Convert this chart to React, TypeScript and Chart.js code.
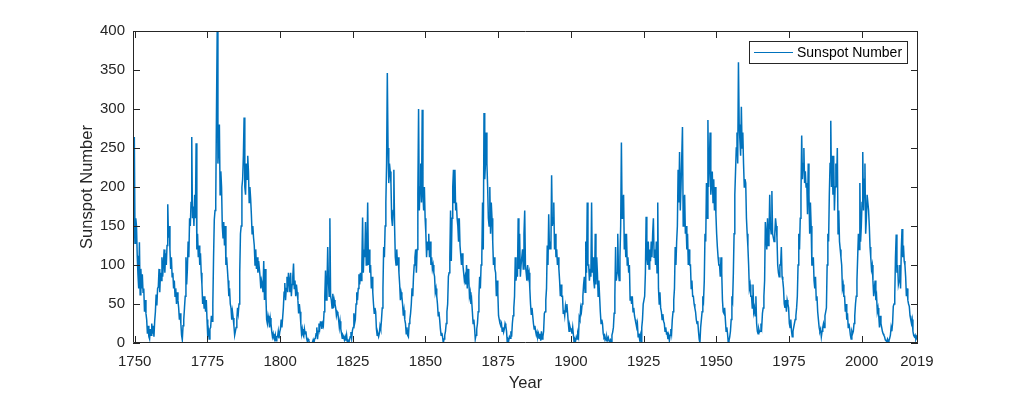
import React, { useEffect, useRef } from "react";
import { Chart, registerables } from "chart.js";

Chart.register(...registerables);

// Quarterly sunspot numbers, first value at 1749.375, one value every 0.25 year
const START_YEAR = 1749.375;
const STEP_YEARS = 0.25;

const ssn1749to1799: number[] = [
  100, 140, 264,
  128, 160, 150, 112,
  88, 70, 129, 62,
  95, 70, 88, 65,
  70, 40, 55, 38,
  30, 12, 22, 8,
  5, 18, 10, 25,
  12, 22, 8, 28,
  40, 62, 48, 70,
  72, 95, 65, 90,
  80, 110, 85, 100,
  120, 90, 115, 100,
  125, 178, 135, 150,
  120, 95, 110, 85,
  90, 70, 80, 60,
  70, 50, 65, 55,
  45, 30, 38, 25,
  10, 4, 22, 30,
  45, 60, 110, 75,
  95, 130, 110, 160,
  150, 180, 264, 160,
  175, 150, 190, 160,
  256, 120, 140, 110,
  125, 100, 115, 90,
  75, 50, 60, 45,
  60, 40, 55, 30,
  8, 15, 5, 18,
  20, 35, 28, 50,
  110, 158, 170, 180,
  296, 400, 230, 250,
  280, 190, 220, 200,
  150, 135, 155, 125,
  150, 100, 110, 95,
  80, 60, 70, 50,
  45, 30, 40, 32,
  22, 10, 15, 20,
  30, 45, 38, 50,
  90, 140, 150, 200,
  210, 240, 289, 200,
  190, 230, 210, 240,
  220, 180, 200, 185,
  165, 140, 150, 135,
  125, 100, 120, 95,
  110, 90, 105, 95,
  85, 70, 80, 75,
  65, 105, 55, 95,
  60, 30, 25, 35,
  30, 20, 32, 25,
  15, 8, 12, 6,
  4, 10, 3, 8,
  8, 15, 6, 14,
];

const ssn1800to1849: number[] = [
  18, 30, 20, 32,
  45, 65, 77, 55,
  70, 85, 65, 90,
  80, 65, 90, 60,
  75, 85, 102, 70,
  80, 60, 75, 65,
  55, 38, 50, 40,
  25, 12, 18, 10,
  8, 18, 12, 15,
  6, 2, 5, 3,
  0, 0, 0, 0,
  1, 4, 0, 5,
  6, 12, 20, 5,
  15, 25, 18, 27,
  27, 18, 25, 22,
  40, 60, 93, 55,
  70, 123, 80, 60,
  160, 60, 55, 45,
  63, 45, 55, 50,
  45, 35, 40, 38,
  30, 20, 28, 18,
  12, 6, 10, 8,
  4, 8, 3, 10,
  1, 3, 0, 4,
  8, 14, 6, 16,
  20, 38, 25, 30,
  50, 65, 55, 70,
  88, 75, 90, 80,
  100, 161, 90, 120,
  110, 155, 100, 120,
  180, 100, 120, 90,
  100, 70, 85, 65,
  50, 38, 45, 40,
  18, 10, 12, 8,
  12, 22, 18, 30,
  45, 70, 123, 110,
  150, 180, 230, 346,
  250, 205, 230, 220,
  205, 160, 150, 170,
  222, 150, 110, 100,
  120, 100, 110, 90,
  75, 55, 65, 60,
  50, 35, 42, 30,
  25, 12, 20, 10,
  8, 25, 30, 38,
  50, 70, 60, 85,
  100, 110, 120, 90,
  120, 190, 300, 170,
  200, 230, 180, 299,
  190, 170, 200, 160,
];

const ssn1850to1899: number[] = [
  141, 110, 130, 120,
  140, 110, 130, 100,
  110, 95, 100, 90,
  85, 65, 70, 60,
  50, 35, 40, 30,
  18, 10, 13, 8,
  0, 5, 10, 15,
  25, 40, 50, 85,
  90, 110, 170, 105,
  160, 200, 222, 180,
  222, 170, 180, 160,
  150, 130, 160, 125,
  125, 100, 115, 100,
  90, 80, 85, 75,
  100, 70, 95, 85,
  60, 65, 50, 55,
  40, 25, 30, 20,
  5, 10, 18, 25,
  40, 60, 85, 70,
  100, 110, 180, 120,
  295, 210, 230, 270,
  230, 200, 160, 150,
  200, 140, 180, 160,
  130, 100, 110, 95,
  90, 60, 80, 65,
  35, 30, 25, 22,
  25, 15, 20, 14,
  18, 25, 22, 15,
  0, 5, 3, 8,
  6, 15, 8, 25,
  35, 45, 60, 110,
  80, 90, 85, 160,
  95, 140, 85, 100,
  100, 120, 95, 140,
  170, 100, 90, 80,
  100, 85, 90, 70,
  50, 37, 45, 35,
  25, 18, 22, 15,
  10, 14, 8, 12,
  6, 12, 3, 15,
  5, 8, 15, 38,
  40, 55, 70, 125,
  100, 165, 120, 130,
  120, 215, 150, 160,
  180, 120, 140, 110,
  120, 100, 110, 95,
  80, 60, 75, 60,
  60, 38, 42, 35,
  47, 40, 50, 38,
  25, 15, 22, 18,
];

const ssn1900to1949: number[] = [
  18, 12, 20, 10,
  0, 5, 3, 8,
  5, 12, 8, 33,
  30, 45, 40, 50,
  60, 75, 85, 65,
  130, 90, 180, 100,
  100, 80, 95, 85,
  180, 90, 110, 80,
  70, 140, 75, 110,
  90, 60, 80, 60,
  40, 25, 30, 25,
  12, 8, 10, 6,
  3, 8, 4, 7,
  3, 1, 4, 2,
  10, 14, 20, 38,
  60, 123, 80, 90,
  140, 90, 80, 110,
  150, 257, 160, 180,
  190, 120, 140, 110,
  140, 100, 110, 90,
  100, 55, 60, 50,
  60, 40, 45, 35,
  30, 25, 20, 25,
  8, 12, 5, 10,
  0, 20, 30, 50,
  50, 60, 90, 162,
  110, 100, 130, 95,
  120, 105, 130, 110,
  140, 160, 110, 120,
  100, 130, 90, 180,
  70, 50, 65, 45,
  40, 30, 37, 28,
  25, 15, 20, 12,
  13, 5, 10, 3,
  10, 18, 12, 30,
  40, 55, 70, 123,
  100, 130, 150, 222,
  180, 245, 170, 200,
  200, 277, 150, 180,
  190, 140, 150, 120,
  140, 100, 120, 100,
  100, 70, 80, 60,
  60, 50, 45, 40,
  30, 25, 28, 15,
  5, 0, 20, 30,
  40, 60, 55, 80,
  140, 130, 205, 160,
  286, 200, 230, 270,
  190, 205, 220, 180,
  210, 170, 200, 165,
];

const ssn1950to2019: number[] = [
  140, 123, 110, 100,
  100, 85, 110, 90,
  55, 40, 38, 45,
  30, 15, 20, 12,
  0, 3, 8, 15,
  30, 60, 55, 90,
  140, 190, 220, 250,
  270, 230, 360, 280,
  260, 240, 303, 250,
  270, 230, 200, 210,
  205, 160, 140, 123,
  100, 70, 75, 60,
  60, 45, 75, 40,
  45, 35, 60, 25,
  15, 12, 18, 14,
  15, 25, 20, 38,
  45, 60, 80, 155,
  140, 120, 160, 125,
  135, 190, 150, 140,
  195, 140, 135, 130,
  140, 160, 150, 135,
  100, 90, 85, 100,
  100, 123, 85, 80,
  70, 50, 45, 55,
  40, 55, 50, 45,
  25, 20, 30, 15,
  8, 15, 20, 25,
  30, 35, 45, 60,
  100, 140, 120, 160,
  190, 266, 210, 230,
  250, 205, 220, 200,
  205, 165, 230, 190,
  140, 180, 150, 100,
  100, 110, 80, 70,
  85, 55, 60, 40,
  30, 20, 15, 18,
  8, 15, 20, 25,
  20, 35, 40, 45,
  100, 140, 130, 190,
  230, 285, 200, 240,
  190, 240, 170, 200,
  230, 200, 250, 140,
  170, 130, 120, 110,
  100, 70, 75, 60,
  60, 40, 50, 30,
  38, 20, 25, 18,
  10, 5, 15, 12,
  15, 25, 35, 50,
  60, 80, 110, 140,
  120, 205, 130, 150,
  180, 245, 170, 210,
  230, 140, 160, 190,
  190, 170, 150, 123,
  110, 95, 100, 80,
  60, 70, 80, 55,
  60, 40, 45, 35,
  20, 35, 25, 20,
  15, 12, 10, 8,
  4, 3, 2, 5,
  2, 3, 6, 10,
  20, 15, 25, 47,
  50, 60, 110, 139,
  90, 100, 75, 80,
  100, 70, 120, 146,
  110, 125, 105, 100,
  85, 60, 70, 55,
  50, 47, 35, 30,
  25, 30, 15, 10,
  8, 10, 5, 8,
  5, 4,
];

const sunspotSeries: number[] = [
  ...ssn1749to1799,
  ...ssn1800to1849,
  ...ssn1850to1899,
  ...ssn1900to1949,
  ...ssn1950to2019,
];

const xTickYears: number[] = [1750, 1775, 1800, 1825, 1850, 1875, 1900, 1925, 1950, 1975, 2000, 2019];
const yTickValues: number[] = [0, 50, 100, 150, 200, 250, 300, 350, 400];
const seriesLabel = "Sunspot Number";
const xAxisTitle = "Year";
const yAxisTitle = "Sunspot Number";

export default function App() {
  const canvasRef = useRef<HTMLCanvasElement | null>(null);

  useEffect(() => {
    const canvas = canvasRef.current;
    if (!canvas) return;
    const family = "'Liberation Sans', Arial, Helvetica, sans-serif";
    const axisColor = "#262626";
    const lineColor = "#0072BD";
    const points = sunspotSeries.map((v, i) => ({ x: START_YEAR + i * STEP_YEARS, y: v }));

    const framePlugin = {
      id: "matlabFrame",
      afterDraw(chart: any) {
        const { ctx, chartArea } = chart;
        const { left, right, top, bottom } = chartArea;
        const xs = chart.scales.x;
        const ys = chart.scales.y;
        const tl = 7;
        ctx.save();
        ctx.strokeStyle = axisColor;
        ctx.lineWidth = 1;
        ctx.beginPath();
        ctx.rect(left + 0.5, top + 0.5, right - left - 1, bottom - top - 1);
        for (const v of xTickYears) {
          const px = Math.round(xs.getPixelForValue(v)) + 0.5;
          ctx.moveTo(px, bottom);
          ctx.lineTo(px, bottom - tl);
          ctx.moveTo(px, top);
          ctx.lineTo(px, top + tl);
        }
        for (const v of yTickValues) {
          const py = Math.round(ys.getPixelForValue(v)) + 0.5;
          ctx.moveTo(left, py);
          ctx.lineTo(left + tl, py);
          ctx.moveTo(right, py);
          ctx.lineTo(right - tl, py);
        }
        ctx.stroke();

        // legend
        const bx = 749.5, by = 41.5, bw = 158, bh = 22;
        ctx.fillStyle = "#ffffff";
        ctx.fillRect(bx, by, bw, bh);
        ctx.strokeStyle = axisColor;
        ctx.strokeRect(bx, by, bw, bh);
        ctx.strokeStyle = lineColor;
        ctx.beginPath();
        ctx.moveTo(754, 52.5);
        ctx.lineTo(793, 52.5);
        ctx.stroke();
        ctx.fillStyle = "#000000";
        ctx.font = `14px ${family}`;
        ctx.textAlign = "left";
        ctx.textBaseline = "middle";
        ctx.fillText(seriesLabel, 797, 53);
        ctx.restore();
      },
    };

    const chart = new Chart(canvas, {
      type: "line",
      data: {
        datasets: [
          {
            label: seriesLabel,
            data: points,
            borderColor: lineColor,
            borderWidth: 1.5,
            pointRadius: 0,
            tension: 0,
            fill: false,
          },
        ],
      },
      options: {
        animation: false,
        responsive: false,
        devicePixelRatio: 1,
        parsing: false,
        normalized: true,
        layout: { padding: { top: 31, right: 98, left: 0, bottom: 0 } },
        plugins: {
          legend: { display: false },
          tooltip: { enabled: false },
        },
        scales: {
          x: {
            type: "linear",
            min: 1749.42,
            max: 2019.37,
            grid: { display: false, drawTicks: false },
            border: { display: false },
            ticks: {
              font: { family, size: 15 },
              color: axisColor,
              padding: 10,
              maxRotation: 0,
              autoSkip: false,
              callback: (v: any) => String(v),
            },
            afterBuildTicks: (s: any) => {
              s.ticks = xTickYears.map((v) => ({ value: v }));
            },
            afterFit: (s: any) => {
              s.height = 52;
            },
            title: {
              display: true,
              text: xAxisTitle,
              font: { family, size: 16.5 },
              color: axisColor,
              padding: { top: 0, bottom: 2 },
            },
          },
          y: {
            type: "linear",
            min: 0,
            max: 400,
            grid: { display: false, drawTicks: false },
            border: { display: false },
            ticks: {
              stepSize: 50,
              font: { family, size: 15 },
              color: axisColor,
              padding: 8,
              callback: (v: any) => String(v),
            },
            afterBuildTicks: (s: any) => {
              s.ticks = yTickValues.map((v) => ({ value: v }));
            },
            afterFit: (s: any) => {
              s.width = 133;
            },
            title: {
              display: true,
              text: yAxisTitle,
              font: { family, size: 16.5 },
              color: axisColor,
              padding: { top: 78, bottom: 0 },
            },
          },
        },
      },
      plugins: [framePlugin],
    } as any);

    return () => chart.destroy();
  }, []);

  return (
    <div style={{ position: "absolute", left: 0, top: 0, width: 1016, height: 395, background: "#ffffff" }}>
      <canvas ref={canvasRef} width={1016} height={395} style={{ display: "block", width: 1016, height: 395 }} />
    </div>
  );
}
